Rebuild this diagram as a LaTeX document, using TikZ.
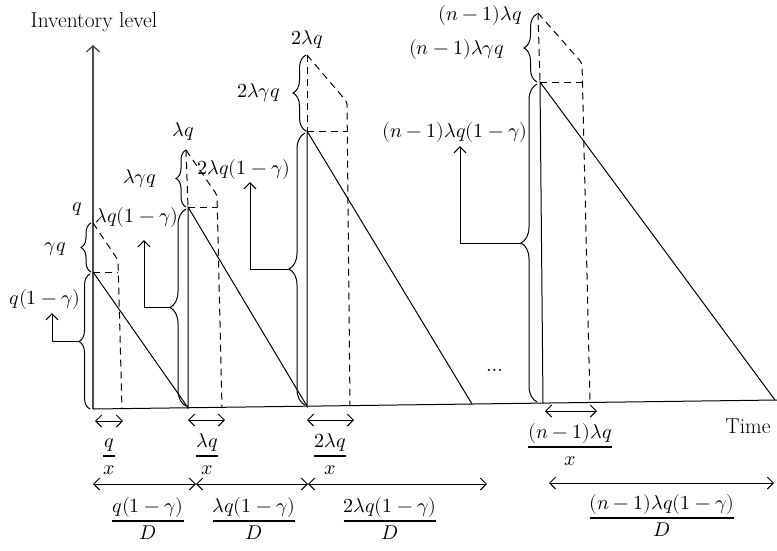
\documentclass[tikz,border=0pt]{standalone}
\usepackage{amsmath}
\usepackage{unicode-math}
\usetikzlibrary{decorations.pathreplacing,arrows.meta,calc}
\newcommand{\myfrac}[2]{\genfrac{}{}{1.4pt}{0}{#1}{#2}}
\begin{document}
\begin{tikzpicture}[x=1pt,y=-1pt,
  every node/.style={font=\fontsize{20}{24}\selectfont, inner sep=1pt},
  txt/.style={font=\fontsize{21.5}{25}\selectfont},
  ln/.style={line width=1pt},
  axis/.style={line width=1.3pt, black!70, -{Straight Barb[length=6pt,width=13pt]}},
  dsh/.style={line width=1pt, dash pattern=on 7pt off 5pt, rounded corners=3pt},
  brc/.style={decorate, decoration={brace, amplitude=#1}, line width=1pt},
  brc/.default=10pt,
  arr/.style={line width=1pt, -{Straight Barb[length=6pt,width=12pt]}},
  darr/.style={line width=1pt, {Straight Barb[length=6pt,width=12pt]}-{Straight Barb[length=6pt,width=12pt]}},
]
\useasboundingbox (0,0) rectangle (777,550);

% key points
\coordinate (O) at (93,409);
\coordinate (X) at (777,400);
\coordinate (Ytop) at (93,45);
\coordinate (P1) at (93,272);  \coordinate (T1) at (93,223);
\coordinate (B2) at (188,407.7); \coordinate (P2) at (188,207); \coordinate (T2) at (186,150);
\coordinate (B3) at (307,406.2); \coordinate (P3) at (307,131); \coordinate (T3) at (307,55);
\coordinate (E3) at (472,404);
\coordinate (B4) at (543,403); \coordinate (P4) at (540,82); \coordinate (T4) at (538,13);
\coordinate (E4) at (775,400);

% axes
\draw[axis] (O) -- (Ytop);
\draw[ln] (O) -- (X);
\node[txt] (ylab) at (94,22) {Inventory level};
\node[txt] (tlab) at (748,426) {Time};

% sawtooth
\draw[ln] (P1) -- (B2) -- (P2) -- (B3) -- (P3) -- (E3);
\draw[ln] (B4) -- (P4) -- (E4);

% dashed outlines
\draw[dsh] (T1) -- (118,260) -- (122,409);
\draw[dsh] (P1) -- (118,272);
\draw[dsh] (T2) -- (P2);
\draw[dsh] (T2) -- (217,195) -- (222,407.6);
\draw[dsh] (P2) -- (217,207);
\draw[dsh] (T3) -- (P3);
\draw[dsh] (T3) -- (347,102) -- (350,406);
\draw[dsh] (P3) -- (347,131);
\draw[dsh] (T4) -- (P4);
\draw[dsh] (T4) -- (582,63) -- (590,402);
\draw[dsh] (P4) -- (582,82);

% cycle 1
\draw[brc] (91,272) -- (91,223);
\node[anchor=east] (g1) at (67,249) {$\gamma q$};
\node (q1) at (77,209) {$q$};
\draw[brc=11pt] (90,409) -- (90,274);
\coordinate (c1) at (79,341.5);
\node (l1) at (45,299) {$q(1-\gamma)$};
\draw[arr] (c1) -| ($(l1.south)+(7,3)$);

% cycle 2
\draw[brc] (186,207) -- (186,150);
\node[anchor=east] (g2) at (157,179) {$\lambda\gamma q$};
\node (q2) at (183,131) {$\lambda q$};
\draw[brc=16pt] (186,406) -- (186,209);
\coordinate (c2) at (170,307.5);
\node (l2) at (137,217) {$\lambda q(1-\gamma)$};
\draw[arr] (c2) -| ($(l2.south)+(7,12)$);

% cycle 3
\draw[brc=13pt] (306,131) -- (306,55);
\node[anchor=east] (g3) at (281,93) {$2\lambda\gamma q$};
\node (q3) at (307,39) {$2\lambda q$};
\draw[brc=16pt] (305,405) -- (305,133);
\coordinate (c3) at (289,269);
\node (l3) at (244,169) {$2\lambda q(1-\gamma)$};
\draw[arr] (c3) -| ($(l3.south)+(6,2)$);

% cycle n
\draw[brc=13pt] (537,82) -- (537,14);
\node[anchor=east] (g4) at (505,49) {$(n-1)\lambda\gamma q$};
\node[anchor=east] (q4) at (523,15) {$(n-1)\lambda q$};
\draw[brc=16pt] (537,402) -- (537,84);
\coordinate (c4) at (521,243);
\node (l4) at (455,132) {$(n-1)\lambda q(1-\gamma)$};
\draw[arr] (c4) -| ($(l4.south)+(5,3)$);

\node (dots) at (495,370) {$\ldots$};

% small intervals
\coordinate (a1) at (95,421);  \coordinate (a1e) at (123,421);
\coordinate (a2) at (188,420); \coordinate (a2e) at (225,420);
\coordinate (a3) at (307,420); \coordinate (a3e) at (354,420);
\coordinate (a4) at (545,411); \coordinate (a4e) at (597,411);
\draw[darr] (a1) -- (a1e);
\draw[darr] (a2) -- (a2e);
\draw[darr] (a3) -- (a3e);
\draw[darr] (a4) -- (a4e);
\node[anchor=base] (f1) at (109,461) {$\myfrac{q}{x}$};
\node[anchor=base] (f2) at (207,461) {$\myfrac{\lambda q}{x}$};
\node[anchor=base] (f3) at (330,461) {$\myfrac{2\lambda q}{x}$};
\node[anchor=base] (f4) at (570,452) {$\myfrac{(n-1)\lambda q}{x}$};

% long intervals
\coordinate (d0) at (93,484); \coordinate (d1) at (196,484);
\coordinate (d2) at (308,484); \coordinate (d3) at (487,484);
\coordinate (d4) at (549,483); \coordinate (d5) at (774,483);
\draw[darr] (d0) -- (d1);
\draw[darr] (d1) -- (d2);
\draw[darr] (d2) -- (d3);
\draw[darr] (d4) -- (d5);
\node[anchor=base] (h1) at (148,526) {$\myfrac{q(1-\gamma)}{D}$};
\node[anchor=base] (h2) at (254,526) {$\myfrac{\lambda q(1-\gamma)}{D}$};
\node[anchor=base] (h3) at (390,526) {$\myfrac{2\lambda q(1-\gamma)}{D}$};
\node[anchor=base] (h4) at (662,523) {$\myfrac{(n-1)\lambda q(1-\gamma)}{D}$};
\end{tikzpicture}
\end{document}
